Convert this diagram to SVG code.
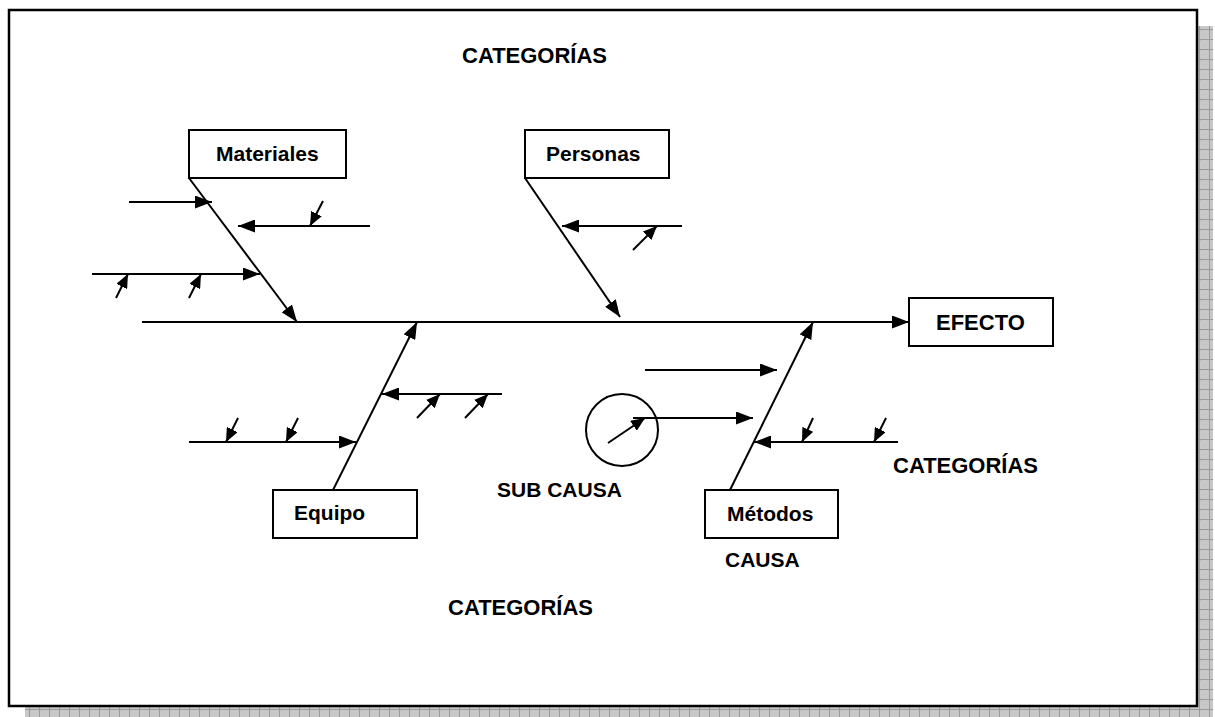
<svg xmlns="http://www.w3.org/2000/svg" width="1215" height="717" viewBox="0 0 1215 717">
  <defs>
    <!-- gray grid texture for the drop shadow of the frame -->
    <pattern id="shadowGrid" x="0" y="0" width="10" height="10" patternUnits="userSpaceOnUse">
      <rect width="10" height="10" fill="#c8c8c8"/>
      <rect x="0" y="0" width="1" height="1" fill="#b8b8b8"/>
      <rect x="4" y="4" width="1" height="1" fill="#b8b8b8"/>
      <path d="M9.5,0 V10 M0,9.5 H10" stroke="#9a9a9a" stroke-width="1"/>
    </pattern>
    <marker id="arrow" viewBox="0 0 17 13" refX="17" refY="6.5" markerWidth="17" markerHeight="13" markerUnits="userSpaceOnUse" orient="auto">
      <path d="M0,0 L17,6.5 L0,13 Z" fill="#000"/>
    </marker>
    <marker id="arrowSmall" viewBox="0 0 14 12" refX="14" refY="6" markerWidth="14" markerHeight="12" markerUnits="userSpaceOnUse" orient="auto">
      <path d="M0,0 L14,6 L0,12 Z" fill="#000"/>
    </marker>
  </defs>
  <style>
    .box { fill: #fff; stroke: #000; stroke-width: 2; }
    .lbl { font-family: "Liberation Sans", Arial, sans-serif; font-weight: bold; font-size: 21px; fill: #000; }
    .big { font-size: 22px; }
    .bone { stroke: #000; stroke-width: 2; fill: none; marker-end: url(#arrow); }
    .sub { stroke: #000; stroke-width: 2; fill: none; marker-end: url(#arrowSmall); }
  </style>

  <!-- page background, shadow and frame -->
  <rect x="0" y="0" width="1215" height="717" fill="#fff"/>
  <rect x="25" y="26" width="1188" height="691" fill="url(#shadowGrid)"/>
  <rect x="9" y="10" width="1188" height="696" fill="#fff" stroke="#000" stroke-width="2.5"/>

  <!-- connectors: spine, category bones, causes and sub-causes -->
  <g id="connectors">
    <!-- spine -->
    <line class="bone" x1="142" y1="322" x2="909" y2="322"/>

    <!-- Materiales bone and causes -->
    <line class="bone" x1="189" y1="178" x2="297" y2="322"/>
    <line class="bone" x1="129" y1="202" x2="212" y2="202"/>
    <line class="bone" x1="370" y1="226" x2="238" y2="226"/>
    <line class="sub" x1="323" y1="201" x2="310" y2="226"/>
    <line class="bone" x1="92" y1="274" x2="260" y2="274"/>
    <line class="sub" x1="116" y1="298" x2="128" y2="274"/>
    <line class="sub" x1="189" y1="298" x2="201" y2="274"/>

    <!-- Personas bone and causes -->
    <line class="bone" x1="525" y1="178" x2="620" y2="317"/>
    <line class="bone" x1="682" y1="226" x2="562" y2="226"/>
    <line class="sub" x1="633" y1="250" x2="657" y2="226"/>

    <!-- Equipo bone and causes -->
    <line class="bone" x1="333" y1="490" x2="417" y2="322"/>
    <line class="bone" x1="502" y1="394" x2="382" y2="394"/>
    <line class="sub" x1="417" y1="418" x2="440" y2="394"/>
    <line class="sub" x1="465" y1="418" x2="488" y2="394"/>
    <line class="bone" x1="189" y1="442" x2="356" y2="442"/>
    <line class="sub" x1="238" y1="418" x2="226" y2="442"/>
    <line class="sub" x1="298" y1="418" x2="286" y2="442"/>

    <!-- Métodos bone and causes -->
    <line class="bone" x1="730" y1="490" x2="813" y2="322"/>
    <line class="bone" x1="645" y1="370" x2="777" y2="370"/>
    <line class="bone" x1="633" y1="418" x2="753" y2="418"/>
    <line class="sub" x1="608" y1="443" x2="645" y2="418"/>
    <line class="bone" x1="898" y1="442" x2="754" y2="442"/>
    <line class="sub" x1="813" y1="418" x2="802" y2="442"/>
    <line class="sub" x1="886" y1="418" x2="874" y2="442"/>
  </g>

  <!-- category boxes -->
  <g id="materiales">
    <rect class="box" x="189" y="130" width="157" height="48"/>
    <text class="lbl" x="216" y="161">Materiales</text>
  </g>
  <g id="personas">
    <rect class="box" x="525" y="130" width="144" height="48"/>
    <text class="lbl" x="546" y="161">Personas</text>
  </g>
  <g id="equipo">
    <rect class="box" x="273" y="490" width="144" height="48"/>
    <text class="lbl" x="294" y="520">Equipo</text>
  </g>
  <g id="metodos">
    <rect class="box" x="705" y="490" width="133" height="48"/>
    <text class="lbl" x="727" y="521">Métodos</text>
  </g>
  <g id="efecto">
    <rect class="box" x="909" y="298" width="144" height="48"/>
    <text class="lbl big" x="936" y="330">EFECTO</text>
  </g>

  <!-- sub-cause highlight -->
  <g id="subcausa">
    <circle cx="622" cy="430" r="36" fill="none" stroke="#000" stroke-width="2"/>
    <text class="lbl" x="497" y="497">SUB CAUSA</text>
  </g>

  <!-- annotations -->
  <g id="labels">
    <text class="lbl big" x="462" y="63">CATEGORÍAS</text>
    <text class="lbl big" x="893" y="473">CATEGORÍAS</text>
    <text class="lbl big" x="448" y="615">CATEGORÍAS</text>
    <text class="lbl" x="725" y="567">CAUSA</text>
  </g>
</svg>
